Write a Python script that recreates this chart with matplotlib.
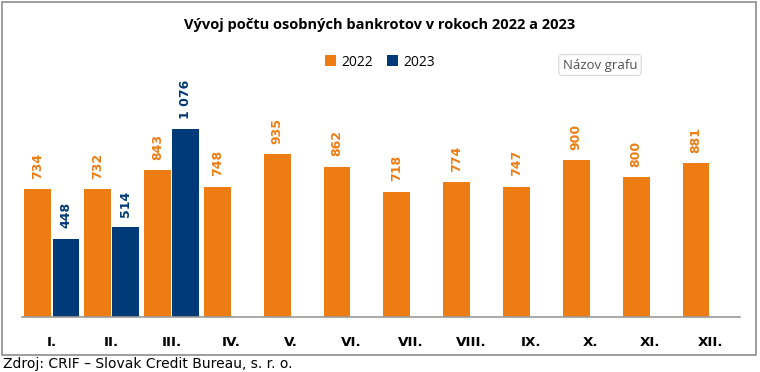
import numpy as np
import matplotlib.pyplot as plt
from matplotlib.patches import Rectangle

mesiace = ['I.', 'II.', 'III.', 'IV.', 'V.', 'VI.', 'VII.', 'VIII.', 'IX.', 'X.', 'XI.', 'XII.']
rok2022 = [734, 732, 843, 748, 935, 862, 718, 774, 747, 900, 800, 881]
rok2023 = [448, 514, 1076]

oranzova = '#ED7D13'
modra = '#003A78'

def fmt(v):
    return '{:,}'.format(v).replace(',', ' ')

fig = plt.figure(figsize=(7.6, 3.72), dpi=100)
ax = fig.add_axes([22 / 760, 55 / 372, 718 / 760, 209.3 / 372])

x = np.arange(len(mesiace))
w = 0.45
ax.bar(x - w / 2 - 0.01, rok2022, w, color=oranzova, label='2022')
ax.bar(np.arange(len(rok2023)) + w / 2 + 0.01, rok2023, w, color=modra, label='2023')

for i, v in enumerate(rok2022):
    ax.annotate(fmt(v), (i - w / 2 - 0.01, v), xytext=(0, 7.5), textcoords='offset points',
                rotation=90, ha='center', va='bottom', color=oranzova,
                fontsize=9, fontweight='bold')
for i, v in enumerate(rok2023):
    ax.annotate(fmt(v), (i + w / 2 + 0.01, v), xytext=(0, 7.5), textcoords='offset points',
                rotation=90, ha='center', va='bottom', color=modra,
                fontsize=9, fontweight='bold')

ax.set_xlim(-0.5, len(mesiace) - 0.5)
ax.set_ylim(0, 1200)
ax.set_xticks(x)
ax.set_xticklabels(mesiace, fontsize=9.7, fontweight='bold')
ax.tick_params(axis='x', length=0, pad=13.5)
ax.set_yticks([])
for s in ['top', 'right', 'left']:
    ax.spines[s].set_visible(False)
ax.spines['bottom'].set_color('#9a9a9a')
ax.spines['bottom'].set_linewidth(1.2)

fig.text(0.5, 1 - 25 / 372, 'Vývoj počtu osobných bankrotov v rokoch 2022 a 2023',
         ha='center', va='center', fontsize=10.5, fontweight='bold', family='Open Sans')
fig.legend(loc='center', bbox_to_anchor=(0.5, 1 - 62 / 372), ncol=2, frameon=False,
           handlelength=0.8, handleheight=0.8, handletextpad=0.4,
           columnspacing=1.0, prop={'family': 'Open Sans', 'size': 10})

# ramcek grafu
fig.patches.append(Rectangle((2 / 760, 1 - 355 / 372), 754 / 760, 353 / 372,
                             transform=fig.transFigure, fill=False,
                             edgecolor='#8c8c8c', linewidth=1.2))

fig.text(600 / 760, 1 - 65 / 372, 'Názov grafu', ha='center', va='center',
         fontsize=9.5, color='#505050', family='Open Sans',
         bbox=dict(boxstyle='round,pad=0.3', facecolor='white', edgecolor='#d8d8d8',
                   linewidth=0.8))

fig.text(3 / 760, 1 - 364 / 372, 'Zdroj: CRIF – Slovak Credit Bureau, s. r. o.',
         ha='left', va='center', fontsize=10, family='DejaVu Sans')

fig.savefig('out.png', dpi=100)
